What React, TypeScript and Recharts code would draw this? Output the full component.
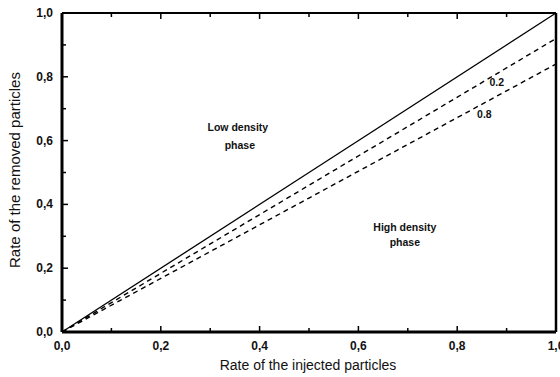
import { LineChart, Line, XAxis, YAxis, ReferenceDot } from "recharts";

const xValues = [0, 0.5, 1];
const solidLine = [0, 0.5, 1];
const dashed02 = [0, 0.46, 0.92];
const dashed08 = [0, 0.42, 0.84];

const ticks = [0, 0.1, 0.2, 0.3, 0.4, 0.5, 0.6, 0.7, 0.8, 0.9, 1];
const majorTicks = [0, 0.2, 0.4, 0.6, 0.8, 1];

const data = xValues.map((x, i) => ({ x, solid: solidLine[i], d02: dashed02[i], d08: dashed08[i] }));

const fmt = (v: number) => v.toFixed(1).replace(".", ",");
const isMajor = (v: number) => majorTicks.some((m) => Math.abs(m - v) < 1e-6);

const FONT = "'Liberation Sans', Arial, sans-serif";

// ticks point into the plot; label only on major ticks
const BottomTick = (props: any) => {
  const { x, y, payload } = props;
  const major = isMajor(payload.value);
  return (
    <g>
      <line x1={x} x2={x} y1={y} y2={y - (major ? 6 : 4)} stroke="#000" strokeWidth={1.5} />
      {major && (
        <text x={x} y={y + 18} textAnchor="middle" fontSize={12} fontWeight="bold" fontFamily={FONT} fill="#111">
          {fmt(payload.value)}
        </text>
      )}
    </g>
  );
};

const TopTick = (props: any) => {
  const { x, y, payload } = props;
  const major = isMajor(payload.value);
  return <line x1={x} x2={x} y1={y} y2={y + (major ? 6 : 4)} stroke="#000" strokeWidth={1.5} />;
};

const LeftTick = (props: any) => {
  const { x, y, payload } = props;
  const major = isMajor(payload.value);
  return (
    <g>
      <line x1={x} x2={x + (major ? 6 : 4)} y1={y} y2={y} stroke="#000" strokeWidth={1.5} />
      {major && (
        <text x={x - 9} y={y + 4} textAnchor="end" fontSize={12} fontWeight="bold" fontFamily={FONT} fill="#111">
          {fmt(payload.value)}
        </text>
      )}
    </g>
  );
};

const RightTick = (props: any) => {
  const { x, y, payload } = props;
  const major = isMajor(payload.value);
  return <line x1={x} x2={x - (major ? 6 : 4)} y1={y} y2={y} stroke="#000" strokeWidth={1.5} />;
};

const textLabel = (value: string) => ({
  value,
  position: "center" as const,
  fontSize: 10.5,
  fontWeight: "bold",
  fontFamily: FONT,
  fill: "#111",
});

const App = () => {
  return (
    <div style={{ position: "absolute", left: 0, top: 0, width: 560, height: 377, background: "#fff" }}>
      <LineChart width={560} height={377} data={data} margin={{ top: 12, right: 3, bottom: 15, left: 22 }}>
        <XAxis
          dataKey="x"
          type="number"
          domain={[0, 1]}
          ticks={ticks}
          height={30}
          tickSize={0}
          tickMargin={0}
          tickLine={false}
          axisLine={{ stroke: "#000", strokeWidth: 3 }}
          tick={<BottomTick />}
          interval={0}
        />
        <XAxis
          xAxisId="top"
          orientation="top"
          dataKey="x"
          type="number"
          domain={[0, 1]}
          ticks={ticks}
          height={1}
          tickSize={0}
          tickMargin={0}
          tickLine={false}
          axisLine={{ stroke: "#000", strokeWidth: 2 }}
          tick={<TopTick />}
          interval={0}
        />
        <YAxis
          type="number"
          domain={[0, 1]}
          ticks={ticks}
          width={40}
          tickSize={0}
          tickMargin={0}
          tickLine={false}
          axisLine={{ stroke: "#000", strokeWidth: 3 }}
          tick={<LeftTick />}
          interval={0}
        />
        <YAxis
          yAxisId="right"
          orientation="right"
          type="number"
          domain={[0, 1]}
          ticks={ticks}
          width={1}
          tickSize={0}
          tickMargin={0}
          tickLine={false}
          axisLine={{ stroke: "#000", strokeWidth: 2.5 }}
          tick={<RightTick />}
          interval={0}
        />
        <Line dataKey="solid" stroke="#000" strokeWidth={1.3} dot={false} isAnimationActive={false} />
        <Line dataKey="d02" stroke="#000" strokeWidth={1.4} strokeDasharray="5 4" dot={false} isAnimationActive={false} />
        <Line dataKey="d08" stroke="#000" strokeWidth={1.4} strokeDasharray="5 4" dot={false} isAnimationActive={false} />
        <ReferenceDot x={0.88} y={0.782} r={0} fill="none" stroke="none" label={textLabel("0.2")} />
        <ReferenceDot x={0.855} y={0.684} r={0} fill="none" stroke="none" label={textLabel("0.8")} />
        <ReferenceDot x={0.356} y={0.641} r={0} fill="none" stroke="none" label={textLabel("Low density")} />
        <ReferenceDot x={0.36} y={0.586} r={0} fill="none" stroke="none" label={textLabel("phase")} />
        <ReferenceDot x={0.694} y={0.327} r={0} fill="none" stroke="none" label={textLabel("High density")} />
        <ReferenceDot x={0.694} y={0.28} r={0} fill="none" stroke="none" label={textLabel("phase")} />
      </LineChart>
      <div
        style={{
          position: "absolute",
          left: 208,
          width: 200,
          top: 357,
          textAlign: "center",
          whiteSpace: "nowrap",
          fontFamily: FONT,
          fontSize: 14,
          color: "#111",
        }}
      >
        Rate of the injected particles
      </div>
      <div
        style={{
          position: "absolute",
          left: 14,
          top: 170,
          transform: "translate(-50%, -50%) rotate(-90deg)",
          whiteSpace: "nowrap",
          fontFamily: FONT,
          fontSize: 15,
          color: "#111",
        }}
      >
        Rate of the removed particles
      </div>
    </div>
  );
};

export default App;
